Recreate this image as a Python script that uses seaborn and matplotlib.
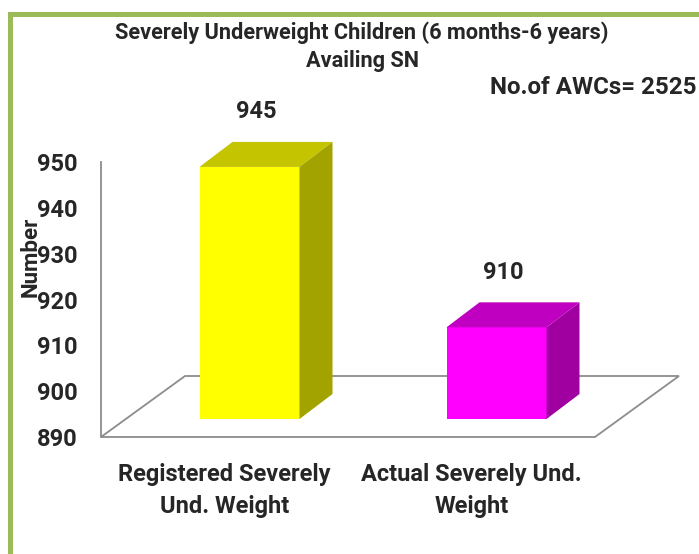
import matplotlib
matplotlib.use("Agg")
import matplotlib.pyplot as plt
import seaborn as sns
import pandas as pd
from matplotlib.patches import Polygon, Rectangle

# chart data
categories = ["Registered Severely\nUnd. Weight", "Actual Severely Und.\nWeight"]
values = [945, 910]
y_ticks = [890, 900, 910, 920, 930, 940, 950]
front_colors = ["#FFFF00", "#FF00FF"]
top_colors = ["#C4C400", "#C000C0"]
side_colors = ["#A3A300", "#A000A0"]
title_lines = ["Severely Underweight Children (6 months-6 years)", "Availing SN"]
note = "No.of AWCs= 2525"
y_label = "Number"

W, H = 699, 554
GRAY = "#8C8C8C"

sns.set_style("white")
plt.rcParams["font.family"] = ["Roboto", "DejaVu Sans"]
plt.rcParams["font.weight"] = "bold"

fig = plt.figure(figsize=(W / 100, H / 100), dpi=100)
ax = fig.add_axes([101 / W, 1 - 437 / H, 494 / W, 275 / H])

ymin, ymax = y_ticks[0], y_ticks[-1]
ux = 2 / 494                 # data units per pixel (x)
uy = (ymax - ymin) / 275     # data units per pixel (y)

# pseudo-3d geometry (pixels -> data)
floor_dx, floor_dy = 84 * ux, 61 * uy
bar_dx, bar_dy = 33 * ux, 25 * uy
front_dx, front_dy = 25 * ux, 18 * uy
bar_w = 100 * ux

df = pd.DataFrame({"category": categories,
                   "height": [v - ymin for v in values]})
sns.barplot(data=df, x="category", y="height", hue="category",
            palette=front_colors, width=bar_w, bottom=ymin + front_dy,
            saturation=1, legend=False, ax=ax, zorder=3, clip_on=False,
            linewidth=0)

ax.set_xlim(-0.5, 1.5)
ax.set_ylim(ymin, ymax)

# floor
floor = Polygon([(-0.5, ymin), (1.5, ymin), (1.5 + floor_dx, ymin + floor_dy),
                 (-0.5 + floor_dx, ymin + floor_dy)], closed=True,
                facecolor="white", edgecolor=GRAY, lw=1.3, clip_on=False, zorder=1)
ax.add_patch(floor)

# top + side faces, value labels
for p, v, tc, sc in zip(list(ax.patches)[:len(values)], values, top_colors, side_colors):
    p.set_x(p.get_x() + front_dx)
    x0, y0 = p.get_x(), p.get_y()
    x1, y1 = x0 + p.get_width(), y0 + p.get_height()
    top = Polygon([(x0, y1), (x1, y1), (x1 + bar_dx, y1 + bar_dy), (x0 + bar_dx, y1 + bar_dy)],
                  closed=True, facecolor=tc, lw=0, clip_on=False, zorder=3)
    side = Polygon([(x1, y0), (x1 + bar_dx, y0 + bar_dy), (x1 + bar_dx, y1 + bar_dy), (x1, y1)],
                   closed=True, facecolor=sc, lw=0, clip_on=False, zorder=3)
    ax.add_patch(top)
    ax.add_patch(side)
    ax.annotate(str(v), xy=((x0 + x1) / 2 + 7 * ux, y1), xytext=(0, 55 * 0.72),
                textcoords="offset points", ha="center", va="center",
                fontsize=17, fontweight="bold", annotation_clip=False)

# axes styling
for s in ["top", "right", "bottom"]:
    ax.spines[s].set_visible(False)
ax.spines["left"].set_color(GRAY)
ax.spines["left"].set_linewidth(1.3)
ax.set_yticks(y_ticks)
ax.tick_params(axis="y", length=5, width=1.2, color=GRAY, pad=12, labelsize=17)
ax.set_xticks([0, 1])
ax.set_xticklabels(categories, fontsize=17, fontweight="bold", linespacing=1.52)
ax.tick_params(axis="x", which="major", length=0, pad=18.5)
ax.set_xticks([-0.5, 0.5, 1.5], minor=True)
ax.tick_params(axis="x", which="minor", length=6, width=1.2, color=GRAY, direction="out")
ax.set_xlabel("")
ax.set_ylabel("")

# texts
fig.text(362 / W, 1 - 39.5 / H, title_lines[0], ha="center", va="baseline", fontsize=15.7, fontweight="bold")
fig.text(362 / W, 1 - 67 / H, title_lines[1], ha="center", va="baseline", fontsize=15.7, fontweight="bold")
fig.text(697 / W, 1 - 94 / H, note, ha="right", va="baseline", fontsize=17.4, fontweight="bold")
fig.text(30.5 / W, 1 - 257 / H, y_label, rotation=90, ha="center", va="center", fontsize=16, fontweight="bold")

# green frame
fig.add_artist(Rectangle((9.5 / W, -0.2), 2, 1 - 14.5 / H + 0.2, transform=fig.transFigure,
                         fill=False, edgecolor="#9BBB59", lw=3.6, joinstyle="miter"))

fig.savefig("out.png", dpi=100)
